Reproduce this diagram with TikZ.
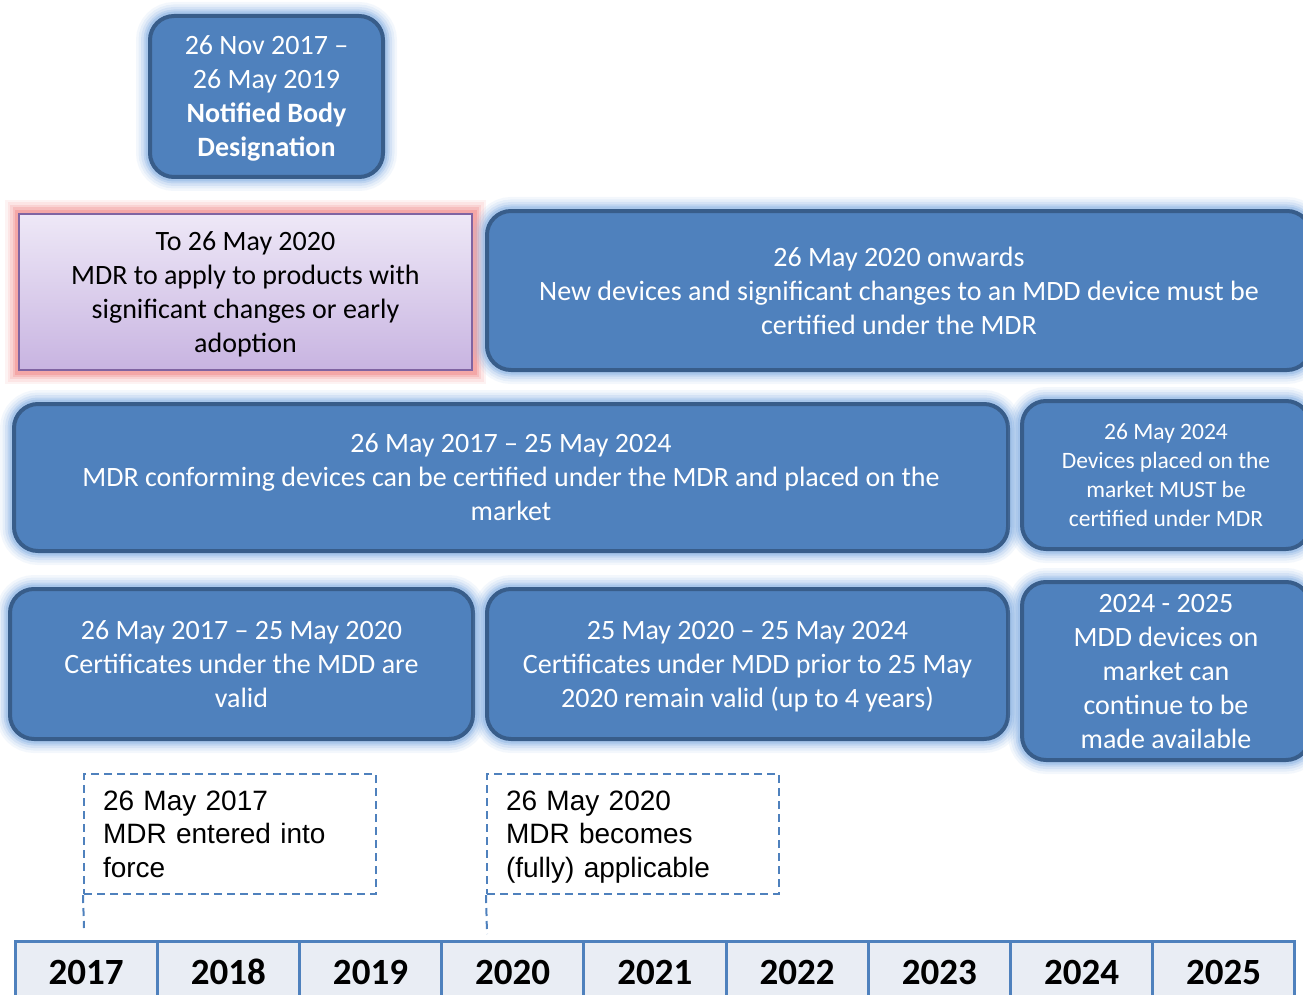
\documentclass[tikz,border=0pt]{standalone}
\usepackage{fontspec}
\setmainfont{Carlito}
\newfontfamily\arialfont{Liberation Sans}
\definecolor{fillblue}{RGB}{79,129,189}
\definecolor{bordblue}{RGB}{56,93,138}
\definecolor{glowblue}{RGB}{141,180,228}
\definecolor{glowpink}{RGB}{240,140,140}
\definecolor{pinktop}{RGB}{238,232,247}
\definecolor{pinkbot}{RGB}{200,180,225}
\definecolor{pinkline}{RGB}{128,100,162}
\definecolor{yearfill}{RGB}{233,237,244}
\definecolor{yearline}{RGB}{79,129,189}
\tikzset{
  glowb/.style={
    preaction={draw=#1, line width=28pt, opacity=0.10},
    preaction={draw=#1, line width=23pt, opacity=0.14},
    preaction={draw=#1, line width=18pt, opacity=0.20},
    preaction={draw=#1, line width=13pt, opacity=0.30},
    preaction={draw=#1, line width=9pt, opacity=0.45}},
  bluebox/.style={draw=bordblue, line width=4pt, fill=fillblue, rounded corners=24pt,
    text=white, align=center, inner sep=0pt, glowb=glowblue, text depth=0pt,
    font=\fontsize{28}{34}\selectfont},
  pinkbox/.style={draw=pinkline, line width=2pt, top color=pinktop, bottom color=pinkbot,
    text=black, align=center, inner sep=0pt, glowb=glowpink, text depth=0pt,
    font=\fontsize{28}{34}\selectfont},
  callout/.style={draw=yearline, line width=2pt, dash pattern=on 8pt off 5pt,
    text=black, align=left, inner xsep=19pt, inner ysep=0pt, text depth=67pt,
    font=\arialfont\fontsize{28}{33.5}\selectfont},
  leader/.style={draw=yearline, line width=2pt, dash pattern=on 8pt off 5pt},
  yearcell/.style={draw=yearline, line width=3pt, fill=yearfill, text=black,
    minimum width=142.2pt, minimum height=62pt, inner sep=0pt,
    font=\bfseries\fontsize{37}{40}\selectfont}
}
\begin{document}
\begin{tikzpicture}[x=1pt,y=-1pt]
\useasboundingbox (0,0) rectangle (1303,995);

% top box
\node[bluebox, minimum width=233pt, minimum height=161pt] (nb) at (266.5,96.5)
  {26 Nov 2017 --\\26 May 2019\\\textbf{Notified Body}\\\textbf{Designation}};

% row 2
\node[pinkbox, minimum width=453pt, minimum height=156pt] (early) at (245.5,292)
  {To 26 May 2020\\MDR to apply to products with\\significant changes or early\\adoption};
\node[bluebox, minimum width=824pt, minimum height=159pt] (onwards) at (899,290.5)
  {26 May 2020 onwards\\New devices and significant changes to an MDD device must be\\certified under the MDR};

% row 3
\node[bluebox, minimum width=994pt, minimum height=147pt] (conf) at (511,477.5)
  {26 May 2017 -- 25 May 2024\\MDR conforming devices can be certified under the MDR and placed on the\\market};
\node[bluebox, minimum width=288pt, minimum height=148pt, font=\fontsize{23.5}{29}\selectfont] (must) at (1166,475)
  {26 May 2024\\Devices placed on the\\market MUST be\\certified under MDR};

% row 4
\node[bluebox, minimum width=463pt, minimum height=150pt] (valid) at (241.5,664)
  {26 May 2017 -- 25 May 2020\\Certificates under the MDD are\\valid};
\node[bluebox, minimum width=521pt, minimum height=150pt] (prior) at (747.5,664)
  {25 May 2020 -- 25 May 2024\\Certificates under MDD prior to 25 May\\2020 remain valid (up to 4 years)};
\node[bluebox, minimum width=288pt, minimum height=178pt] (avail) at (1166,671)
  {2024 - 2025\\MDD devices on\\market can\\continue to be\\made available};

% callouts
\node[callout, minimum width=292pt, minimum height=120pt, text width=254pt] (c1) at (230,834)
  {26 May 2017\\MDR entered into\\force};
\node[callout, minimum width=292pt, minimum height=120pt, text width=254pt] (c2) at (633,834)
  {26 May 2020\\MDR becomes\\(fully) applicable};
\coordinate (t1) at (84,928);
\coordinate (t2) at (487,934);
\draw[leader] (c1.south west) -- (t1);
\draw[leader] (c2.south west) -- (t2);

% year bar
\foreach \yr [count=\i from 0] in {2017,2018,2019,2020,2021,2022,2023,2024,2025} {
  \node[yearcell] (y\yr) at (86.1+142.2*\i,972) {\yr};
}
\end{tikzpicture}
\end{document}
